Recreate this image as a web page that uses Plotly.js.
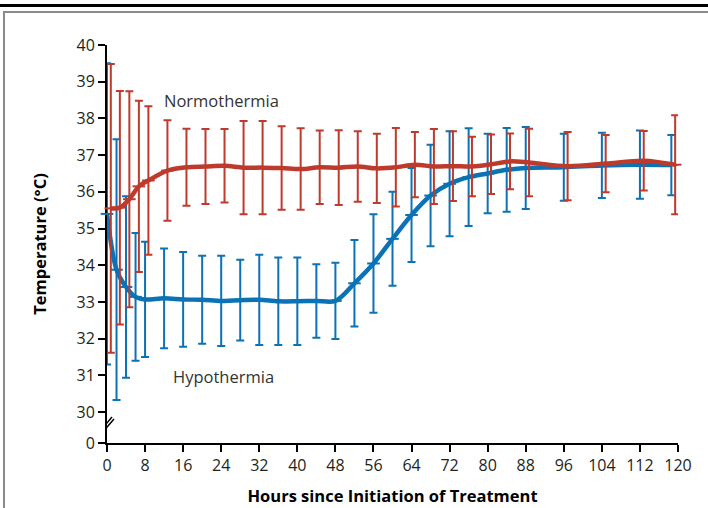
<!DOCTYPE html>
<html>
<head>
<meta charset="utf-8">
<script src="https://cdn.plot.ly/plotly-3.0.1.min.js"></script>
<style>
  html, body { margin: 0; padding: 0; background: #fff; }
  #wrap { position: relative; width: 708px; height: 508px; overflow: hidden; }
  #topbar { position: absolute; left: 0; top: 4px; width: 708px; height: 3px; background: #000; }
  #box { position: absolute; left: 3px; top: 11px; width: 720px; height: 520px; border-left: 2px solid #8a8a8a; border-top: 2px solid #8a8a8a; }
  #chart { position: absolute; left: 0; top: 0; width: 708px; height: 508px; }
</style>
</head>
<body>
<div id="wrap">
  <div id="topbar"></div>
  <div id="box"></div>
  <div id="chart"></div>
</div>
<script>
// Hypothermia group (blue)
const hypoHours = [0, 2, 4, 6, 8, 12, 16, 20, 24, 28, 32, 36, 40, 44, 48, 52, 56, 60, 64, 68, 72, 76, 80, 84, 88, 96, 104, 112, 118.6];
const hypoMean  = [35.4, 33.88, 33.41, 33.14, 33.07, 33.1, 33.07, 33.06, 33.03, 33.05, 33.06, 33.02, 33.02, 33.03, 33.03, 33.51, 34.05, 34.72, 35.37, 35.9, 36.22, 36.4, 36.5, 36.6, 36.65, 36.67, 36.72, 36.74, 36.73];
const hypoSD    = [4.1, 3.55, 2.47, 1.74, 1.57, 1.36, 1.29, 1.2, 1.23, 1.1, 1.23, 1.19, 1.19, 1.0, 1.04, 1.18, 1.34, 1.28, 1.28, 1.38, 1.43, 1.33, 1.08, 1.14, 1.12, 0.91, 0.89, 0.93, 0.82];

// Normothermia group (red)
const normoHours = [0.8, 2.7, 4.7, 6.7, 8.7, 12.7, 16.7, 20.7, 24.7, 28.7, 32.7, 36.7, 40.7, 44.7, 48.7, 52.7, 56.7, 60.7, 64.7, 68.7, 72.7, 76.7, 80.7, 84.7, 88.7, 96.8, 104.8, 112.8, 119.4];
const normoMean  = [35.55, 35.57, 35.8, 36.15, 36.31, 36.58, 36.67, 36.69, 36.71, 36.66, 36.66, 36.65, 36.62, 36.67, 36.66, 36.69, 36.64, 36.67, 36.74, 36.69, 36.7, 36.69, 36.75, 36.83, 36.8, 36.7, 36.77, 36.85, 36.74];
const normoSD    = [3.93, 3.18, 2.94, 2.33, 2.02, 1.37, 1.05, 1.02, 1.0, 1.27, 1.27, 1.14, 1.11, 1.0, 1.02, 0.96, 0.94, 1.07, 0.89, 1.02, 0.95, 0.81, 0.81, 0.76, 0.92, 0.93, 0.78, 0.81, 1.35];

// Axis ticks
const xTicks = [0, 8, 16, 24, 32, 40, 48, 56, 64, 72, 80, 88, 96, 104, 112, 120];
const yBreakValue = 29.16;   // position where the broken axis shows "0"
const yTickVals = [yBreakValue, 30, 31, 32, 33, 34, 35, 36, 37, 38, 39, 40];
const yTickText = ["0", "30", "31", "32", "33", "34", "35", "36", "37", "38", "39", "40"];

const BLUE = "#0b72b5";
const RED = "#be3a2c";
const FONT = "Open Sans, Noto Sans, sans-serif";

function series(x, y, sd, color) {
  return {
    type: "scatter",
    mode: "lines+markers",
    x: x, y: y,
    line: { color: color, width: 4.5, shape: "spline", smoothing: 0.9 },
    marker: { symbol: "line-ew", size: 9, color: color, line: { color: color, width: 2 } },
    error_y: { type: "data", array: sd, symmetric: true, color: color, thickness: 2, width: 4 },
    cliponaxis: false,
    hoverinfo: "skip"
  };
}

const data = [
  series(hypoHours, hypoMean, hypoSD, BLUE),
  series(normoHours, normoMean, normoSD, RED)
];

const layout = {
  width: 708, height: 508,
  margin: { l: 107, r: 30, t: 45, b: 65 },
  paper_bgcolor: "rgba(0,0,0,0)",
  plot_bgcolor: "rgba(0,0,0,0)",
  showlegend: false,
  font: { family: FONT, size: 16, color: "#231f20" },
  xaxis: {
    range: [0, 120],
    tickvals: xTicks,
    ticks: "outside", ticklen: 7, tickwidth: 2, tickcolor: "#000",
    showline: true, linecolor: "#000", linewidth: 2,
    showgrid: false, zeroline: false,
    layer: "below traces",
    tickfont: { family: FONT, size: 16, color: "#231f20" },
    title: { text: "Hours since Initiation of Treatment", font: { family: FONT, size: 16.5, color: "#000", weight: "bold" }, standoff: 15 }
  },
  yaxis: {
    range: [yBreakValue, 40],
    tickvals: yTickVals, ticktext: yTickText,
    ticks: "outside", ticklen: 7, tickwidth: 2, tickcolor: "#000",
    showline: true, linecolor: "#000", linewidth: 2,
    showgrid: false, zeroline: false,
    layer: "below traces",
    tickfont: { family: FONT, size: 16, color: "#231f20" },
    title: { text: "Temperature (°C)", font: { family: FONT, size: 16.5, color: "#000", weight: "bold" }, standoff: 26 }
  },
  annotations: [
    { x: 24.0, y: 38.5, xref: "x", yref: "y", text: "Normothermia", showarrow: false,
      font: { family: FONT, size: 16.5, color: "#333" } },
    { x: 24.4, y: 30.96, xref: "x", yref: "y", text: "Hypothermia", showarrow: false,
      font: { family: FONT, size: 16.5, color: "#333" } }
  ],
  shapes: [
    // axis break: erase a section of the axis line
    { type: "line", xref: "x", yref: "y", xsizemode: "pixel", ysizemode: "pixel",
      xanchor: 0, yanchor: 29.65, x0: 0, x1: 0, y0: -7, y1: 6,
      line: { color: "#fff", width: 5 } },
    { type: "line", xref: "x", yref: "y", xsizemode: "pixel", ysizemode: "pixel",
      xanchor: 0, yanchor: 29.65, x0: -7, y0: -6, x1: 5, y1: 8,
      line: { color: "#000", width: 1.5 } },
    { type: "line", xref: "x", yref: "y", xsizemode: "pixel", ysizemode: "pixel",
      xanchor: 0, yanchor: 29.65, x0: -5, y0: -8, x1: 7, y1: 6,
      line: { color: "#000", width: 1.5 } }
  ]
};

Plotly.newPlot("chart", data, layout, { staticPlot: true, displayModeBar: false });
</script>
</body>
</html>
